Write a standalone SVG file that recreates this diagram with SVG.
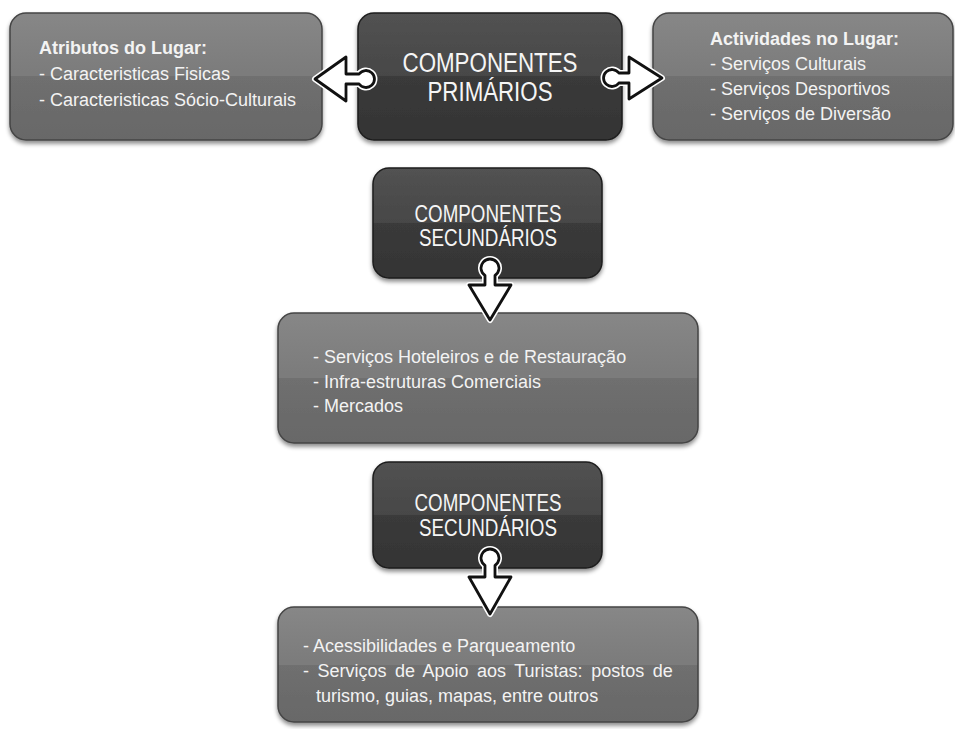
<svg xmlns="http://www.w3.org/2000/svg" width="955" height="729" viewBox="0 0 955 729">
<defs>
<linearGradient id="gLight" x1="0" y1="0" x2="0" y2="1">
<stop offset="0" stop-color="#878787"/>
<stop offset="0.5" stop-color="#7b7b7b"/>
<stop offset="0.5" stop-color="#6f6f6f"/>
<stop offset="1" stop-color="#686868"/>
</linearGradient>
<linearGradient id="gDark" x1="0" y1="0" x2="0" y2="1">
<stop offset="0" stop-color="#525252"/>
<stop offset="0.5" stop-color="#474747"/>
<stop offset="0.5" stop-color="#3a3a3a"/>
<stop offset="1" stop-color="#343434"/>
</linearGradient>
<filter id="sh" x="-5%" y="-5%" width="110%" height="120%">
<feDropShadow dx="0" dy="3" stdDeviation="2" flood-color="#000" flood-opacity="0.45"/>
</filter>
</defs>
<style>
.light{fill:url(#gLight);stroke:#444;stroke-width:1.5;filter:url(#sh)}
.dark{fill:url(#gDark);stroke:#1e1e1e;stroke-width:1.5;filter:url(#sh)}
.t{font-family:"Liberation Sans",Arial,sans-serif;font-size:18px;fill:#f3f3f3}
.b{font-weight:bold}
.h{font-family:"Liberation Sans",Arial,sans-serif;fill:#f5f5f5;text-anchor:middle}
.halo{fill:none;stroke:#fff;stroke-width:6;stroke-linejoin:round}
.arr{fill:#fff;stroke:#111;stroke-width:2.8;stroke-linejoin:round}
</style>
<rect width="955" height="729" fill="#fff"/>

<g id="atributos">
<rect class="light" x="10" y="13" width="312" height="127" rx="16"/>
<text class="t b" x="39" y="54">Atributos do Lugar:</text>
<text class="t" x="39" y="80">- Caracteristicas Fisicas</text>
<text class="t" x="39" y="106">- Caracteristicas Sócio-Culturais</text>
</g>

<g id="primarios">
<rect class="dark" x="358" y="13" width="264" height="127" rx="16"/>
<text class="h" x="490" y="72" font-size="27" textLength="175" lengthAdjust="spacingAndGlyphs">COMPONENTES</text>
<text class="h" x="490" y="101" font-size="27" textLength="125" lengthAdjust="spacingAndGlyphs">PRIMÁRIOS</text>
</g>

<g id="actividades">
<rect class="light" x="653" y="13" width="300" height="127" rx="16"/>
<text class="t b" x="710" y="45">Actividades no Lugar:</text>
<text class="t" x="710" y="70">- Serviços Culturais</text>
<text class="t" x="710" y="95">- Serviços Desportivos</text>
<text class="t" x="710" y="120">- Serviços de Diversão</text>
</g>

<g id="secundarios1">
<rect class="dark" x="373" y="168" width="229" height="110" rx="16"/>
<text class="h" x="488" y="222" font-size="23" textLength="147" lengthAdjust="spacingAndGlyphs">COMPONENTES</text>
<text class="h" x="488" y="246" font-size="23" textLength="138" lengthAdjust="spacingAndGlyphs">SECUNDÁRIOS</text>
</g>

<g id="servicos">
<rect class="light" x="278" y="313" width="420" height="130" rx="16"/>
<text class="t" x="313" y="363">- Serviços Hoteleiros e de Restauração</text>
<text class="t" x="313" y="388">- Infra-estruturas Comerciais</text>
<text class="t" x="313" y="412">- Mercados</text>
</g>

<g id="secundarios2">
<rect class="dark" x="373" y="462" width="229" height="106" rx="16"/>
<text class="h" x="488" y="511" font-size="23" textLength="147" lengthAdjust="spacingAndGlyphs">COMPONENTES</text>
<text class="h" x="488" y="536" font-size="23" textLength="138" lengthAdjust="spacingAndGlyphs">SECUNDÁRIOS</text>
</g>

<g id="acessibilidades">
<rect class="light" x="278" y="607" width="420" height="115" rx="16"/>
<text class="t" x="303" y="652">- Acessibilidades e Parqueamento</text>
<text class="t" x="303" y="677" word-spacing="3.5">- Serviços de Apoio aos Turistas: postos de</text>
<text class="t" x="316" y="702">turismo, guias, mapas, entre outros</text>
</g>

<g id="connectors">
<path class="halo" d="M315,79 L346,57 L346,74 L359.1,74 A8.5,8.5 0 1 1 359.1,84 L346,84 L346,101 Z"/>
<path class="arr" d="M315,79 L346,57 L346,74 L359.1,74 A8.5,8.5 0 1 1 359.1,84 L346,84 L346,101 Z"/>
<path class="halo" d="M662,78 L629,57 L629,73 L618.9,73 A8.5,8.5 0 1 0 618.9,83 L629,83 L629,99 Z"/>
<path class="arr" d="M662,78 L629,57 L629,73 L618.9,73 A8.5,8.5 0 1 0 618.9,83 L629,83 L629,99 Z"/>
<path class="halo" d="M490,320 L469,285 L485,285 L485,275.5 A9,9 0 1 1 495,275.5 L495,285 L511,285 Z"/>
<path class="arr" d="M490,320 L469,285 L485,285 L485,275.5 A9,9 0 1 1 495,275.5 L495,285 L511,285 Z"/>
<path class="halo" d="M490,614 L469,577 L485,577 L485,565.5 A9,9 0 1 1 495,565.5 L495,577 L511,577 Z"/>
<path class="arr" d="M490,614 L469,577 L485,577 L485,565.5 A9,9 0 1 1 495,565.5 L495,577 L511,577 Z"/>
</g>
</svg>
